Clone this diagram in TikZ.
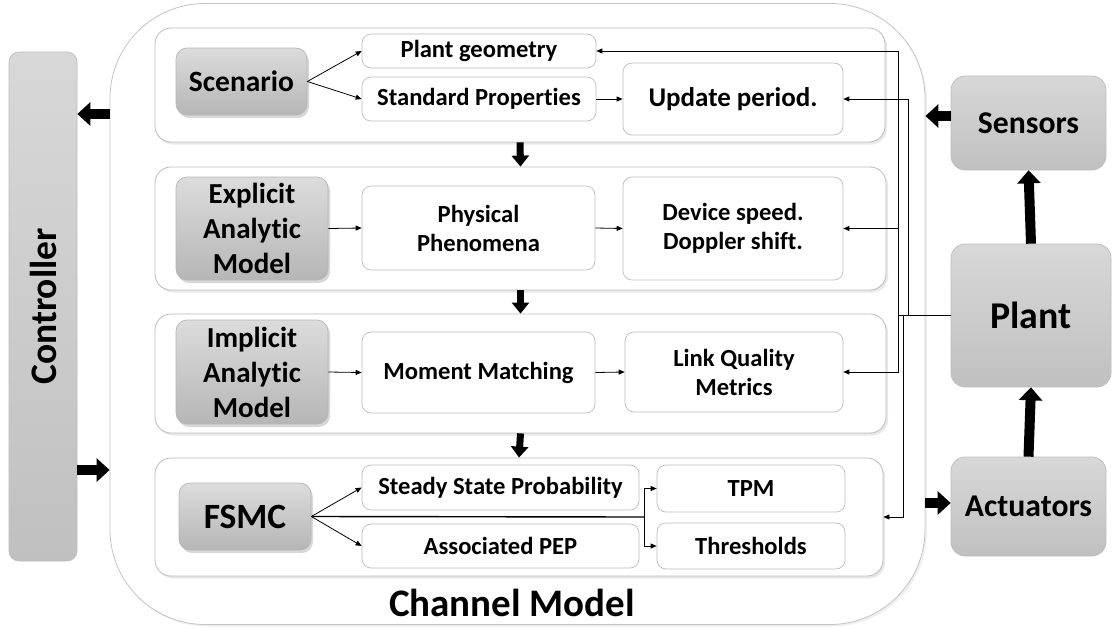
\documentclass[tikz,border=0pt]{standalone}
\usepackage{fontspec}
\setmainfont{Carlito}[Ligatures=CommonOff]
\usetikzlibrary{shadows,arrows.meta,calc}

\definecolor{frame}{HTML}{C4C4C4}
\definecolor{boxedge}{HTML}{BDBDBD}
\definecolor{greytop}{HTML}{DCDCDC}
\definecolor{greybot}{HTML}{B6B6B6}
\definecolor{blocktop}{HTML}{D8D8D8}
\definecolor{blockbot}{HTML}{C0C0C0}

\tikzset{
  softshadow/.style={drop shadow={opacity=0.18, shadow xshift=2pt, shadow yshift=-2.5pt}},
  channel/.style={draw=frame, line width=0.8pt, fill=white, rounded corners=95pt,
    drop shadow={opacity=0.12, shadow xshift=2pt, shadow yshift=-2pt}},
  section/.style={draw=boxedge, line width=0.8pt, fill=white, rounded corners=16pt, softshadow},
  whitebox/.style={draw=boxedge, line width=0.7pt, fill=white, rounded corners=9pt,
    align=center, inner sep=0pt},
  greybox/.style={draw=greybot, line width=0.7pt, top color=greytop, bottom color=greybot,
    rounded corners=11pt, align=center, inner sep=0pt,
    drop shadow={opacity=0.3, shadow xshift=2pt, shadow yshift=-3pt}},
  blockbox/.style={draw=boxedge, line width=0.7pt, top color=blocktop, bottom color=blockbot,
    rounded corners=14pt, align=center, inner sep=0pt},
  txt/.style={font=\fontsize{24.6}{29}\selectfont\bfseries},
  bigtxt/.style={font=\fontsize{29}{35}\selectfont\bfseries},
  thin/.style={line width=0.8pt, -{Triangle[length=6pt,width=5pt]}},
  bus/.style={line width=0.8pt},
  downarrow/.style={line width=7pt, -{Triangle[length=11pt,width=17pt]}},
  bigarrow/.style={line width=10pt, -{Triangle[length=13pt,width=23pt]}},
}

\begin{document}
\begin{tikzpicture}[x=1pt,y=-1pt]
\useasboundingbox[fill=white] (0,0) rectangle (1114,627);

% channel model frame and its caption
\node[channel, minimum width=815pt, minimum height=621pt] (chan) at (517.5,314) {};
\node[font=\fontsize{39}{44}\selectfont\bfseries] (chanlabel) at (512,603) {Channel Model};

% the four stages of the channel model
\node[section, minimum width=730pt, minimum height=114pt] (sec1) at (520,85) {};
\node[section, minimum width=731pt, minimum height=123pt] (sec2) at (520.5,228.5) {};
\node[section, minimum width=731pt, minimum height=119pt] (sec3) at (520.5,373.5) {};
\node[section, minimum width=728pt, minimum height=118pt] (sec4) at (519,517) {};

% stage 1: scenario
\node[greybox, font=\fontsize{29.5}{34}\selectfont\bfseries, minimum width=131pt, minimum height=67pt] (scen) at (241.5,81.5) {Scenario};
\node[whitebox, txt, minimum width=234pt, minimum height=34pt] (pgeo) at (479,51) {Plant geometry};
\node[whitebox, txt, minimum width=234pt, minimum height=44pt] (stdp) at (479,99) {Standard Properties};
\node[whitebox, font=\fontsize{27}{32}\selectfont\bfseries, minimum width=220pt, minimum height=72pt] (upd) at (733,99) {Update period.};

% stage 2: explicit analytic model
\node[greybox, bigtxt, minimum width=152pt, minimum height=103pt] (expl) at (252,228.5) {Explicit\\Analytic\\Model};
\node[whitebox, txt, minimum width=233pt, minimum height=84pt] (phys) at (478.5,228) {Physical\\Phenomena};
\node[whitebox, txt, minimum width=220pt, minimum height=103pt] (dev) at (733,228.5) {Device speed.\\Doppler shift.};

% stage 3: implicit analytic model
\node[greybox, bigtxt, minimum width=152pt, minimum height=104pt] (impl) at (252,372) {Implicit\\Analytic\\Model};
\node[whitebox, txt, minimum width=233pt, minimum height=81pt] (mom) at (478.5,372.5) {Moment Matching};
\node[whitebox, txt, minimum width=218pt, minimum height=80pt] (lqm) at (734,372) {Link Quality\\Metrics};

% stage 4: finite state Markov channel
\node[greybox, font=\fontsize{35.5}{40}\selectfont\bfseries, minimum width=132pt, minimum height=67pt] (fsmc) at (245,516.5) {FSMC};
\node[whitebox, txt, minimum width=277pt, minimum height=45pt] (ssp) at (500.5,487.5) {Steady State Probability};
\node[whitebox, txt, minimum width=277pt, minimum height=44pt] (pep) at (500.5,546) {Associated PEP};
\node[whitebox, txt, minimum width=188pt, minimum height=47pt] (tpm) at (751,488.5) {TPM};
\node[whitebox, txt, minimum width=188pt, minimum height=46pt] (thr) at (751,546) {Thresholds};

% control loop blocks
\node[blockbox, rounded corners=10pt, minimum width=68pt, minimum height=509pt] (ctrl) at (43,306.5) {};
\node[rotate=90, font=\fontsize{37.5}{42}\selectfont\bfseries] (ctrllabel) at (ctrl.center) {Controller};
\node[blockbox, font=\fontsize{31.7}{36}\selectfont\bfseries, minimum width=155pt, minimum height=94pt] (sens) at (1028.5,123) {Sensors};
\node[blockbox, font=\fontsize{37.8}{42}\selectfont\bfseries, minimum width=160pt, minimum height=143pt] (plant) at (1031,315.5) {Plant};
\node[blockbox, font=\fontsize{31.7}{36}\selectfont\bfseries, minimum width=155pt, minimum height=99pt] (act) at (1028.5,506.5) {Actuators};

% flow inside the stages
\draw[thin] (scen.east) -- (pgeo.west);
\draw[thin] (scen.east) -- (stdp.west);
\draw[thin] (stdp.east) -- (upd.west);
\draw[thin] (expl.east) -- (phys.west);
\draw[thin] (phys.east) -- (dev.west);
\draw[thin] (impl.east) -- (mom.west);
\draw[thin] (mom.east) -- (lqm.west);
\draw[thin] (fsmc.east) -- (ssp.west);
\draw[thin] (fsmc.east) -- (pep.west);
\coordinate (split) at (644,517);
\draw[line width=1.4pt] (fsmc.east) -- (split);
\draw[line width=1pt] (split |- tpm.west) -- (split |- thr.west);
\draw[thin] (split |- tpm.west) -- (tpm.west);
\draw[thin] (split |- thr.west) -- (thr.west);

% stage to stage
\draw[downarrow] (sec1.south) -- (sec2.north);
\draw[downarrow] (sec2.south) -- (sec3.north);
\draw[downarrow] (sec3.south) -- (sec4.north);

% plant feedback wiring
\coordinate (busA) at (898,315.5);
\coordinate (busB) at (908,315.5);
\coordinate (busC) at (903,315.5);
\draw[bus] (plant.west) -- (busA);
\draw[thin] (busA) |- (pgeo.east);
\draw[thin] (busA) |- (dev.east);
\draw[thin] (busA) |- (lqm.east);
\draw[thin] (busB) |- (upd.east);
\draw[thin] (busC) |- (sec4.east);

% control loop arrows
\coordinate (ctrlin) at (110,114);
\coordinate (ctrlout) at (77,470);
\draw[bigarrow] (ctrlin) -- (ctrlin -| ctrl.east);
\draw[bigarrow] (ctrlout) -- (ctrlout -| chan.west);
\coordinate (sensout) at (951,116);
\coordinate (actin) at (925,503);
\draw[bigarrow] (sensout) -- (sensout -| chan.east);
\draw[bigarrow] (actin) -- (actin -| act.west);
\draw[bigarrow] (plant.north) -- (sens.south);
\draw[bigarrow] (act.north) -- (plant.south);
\end{tikzpicture}
\end{document}
